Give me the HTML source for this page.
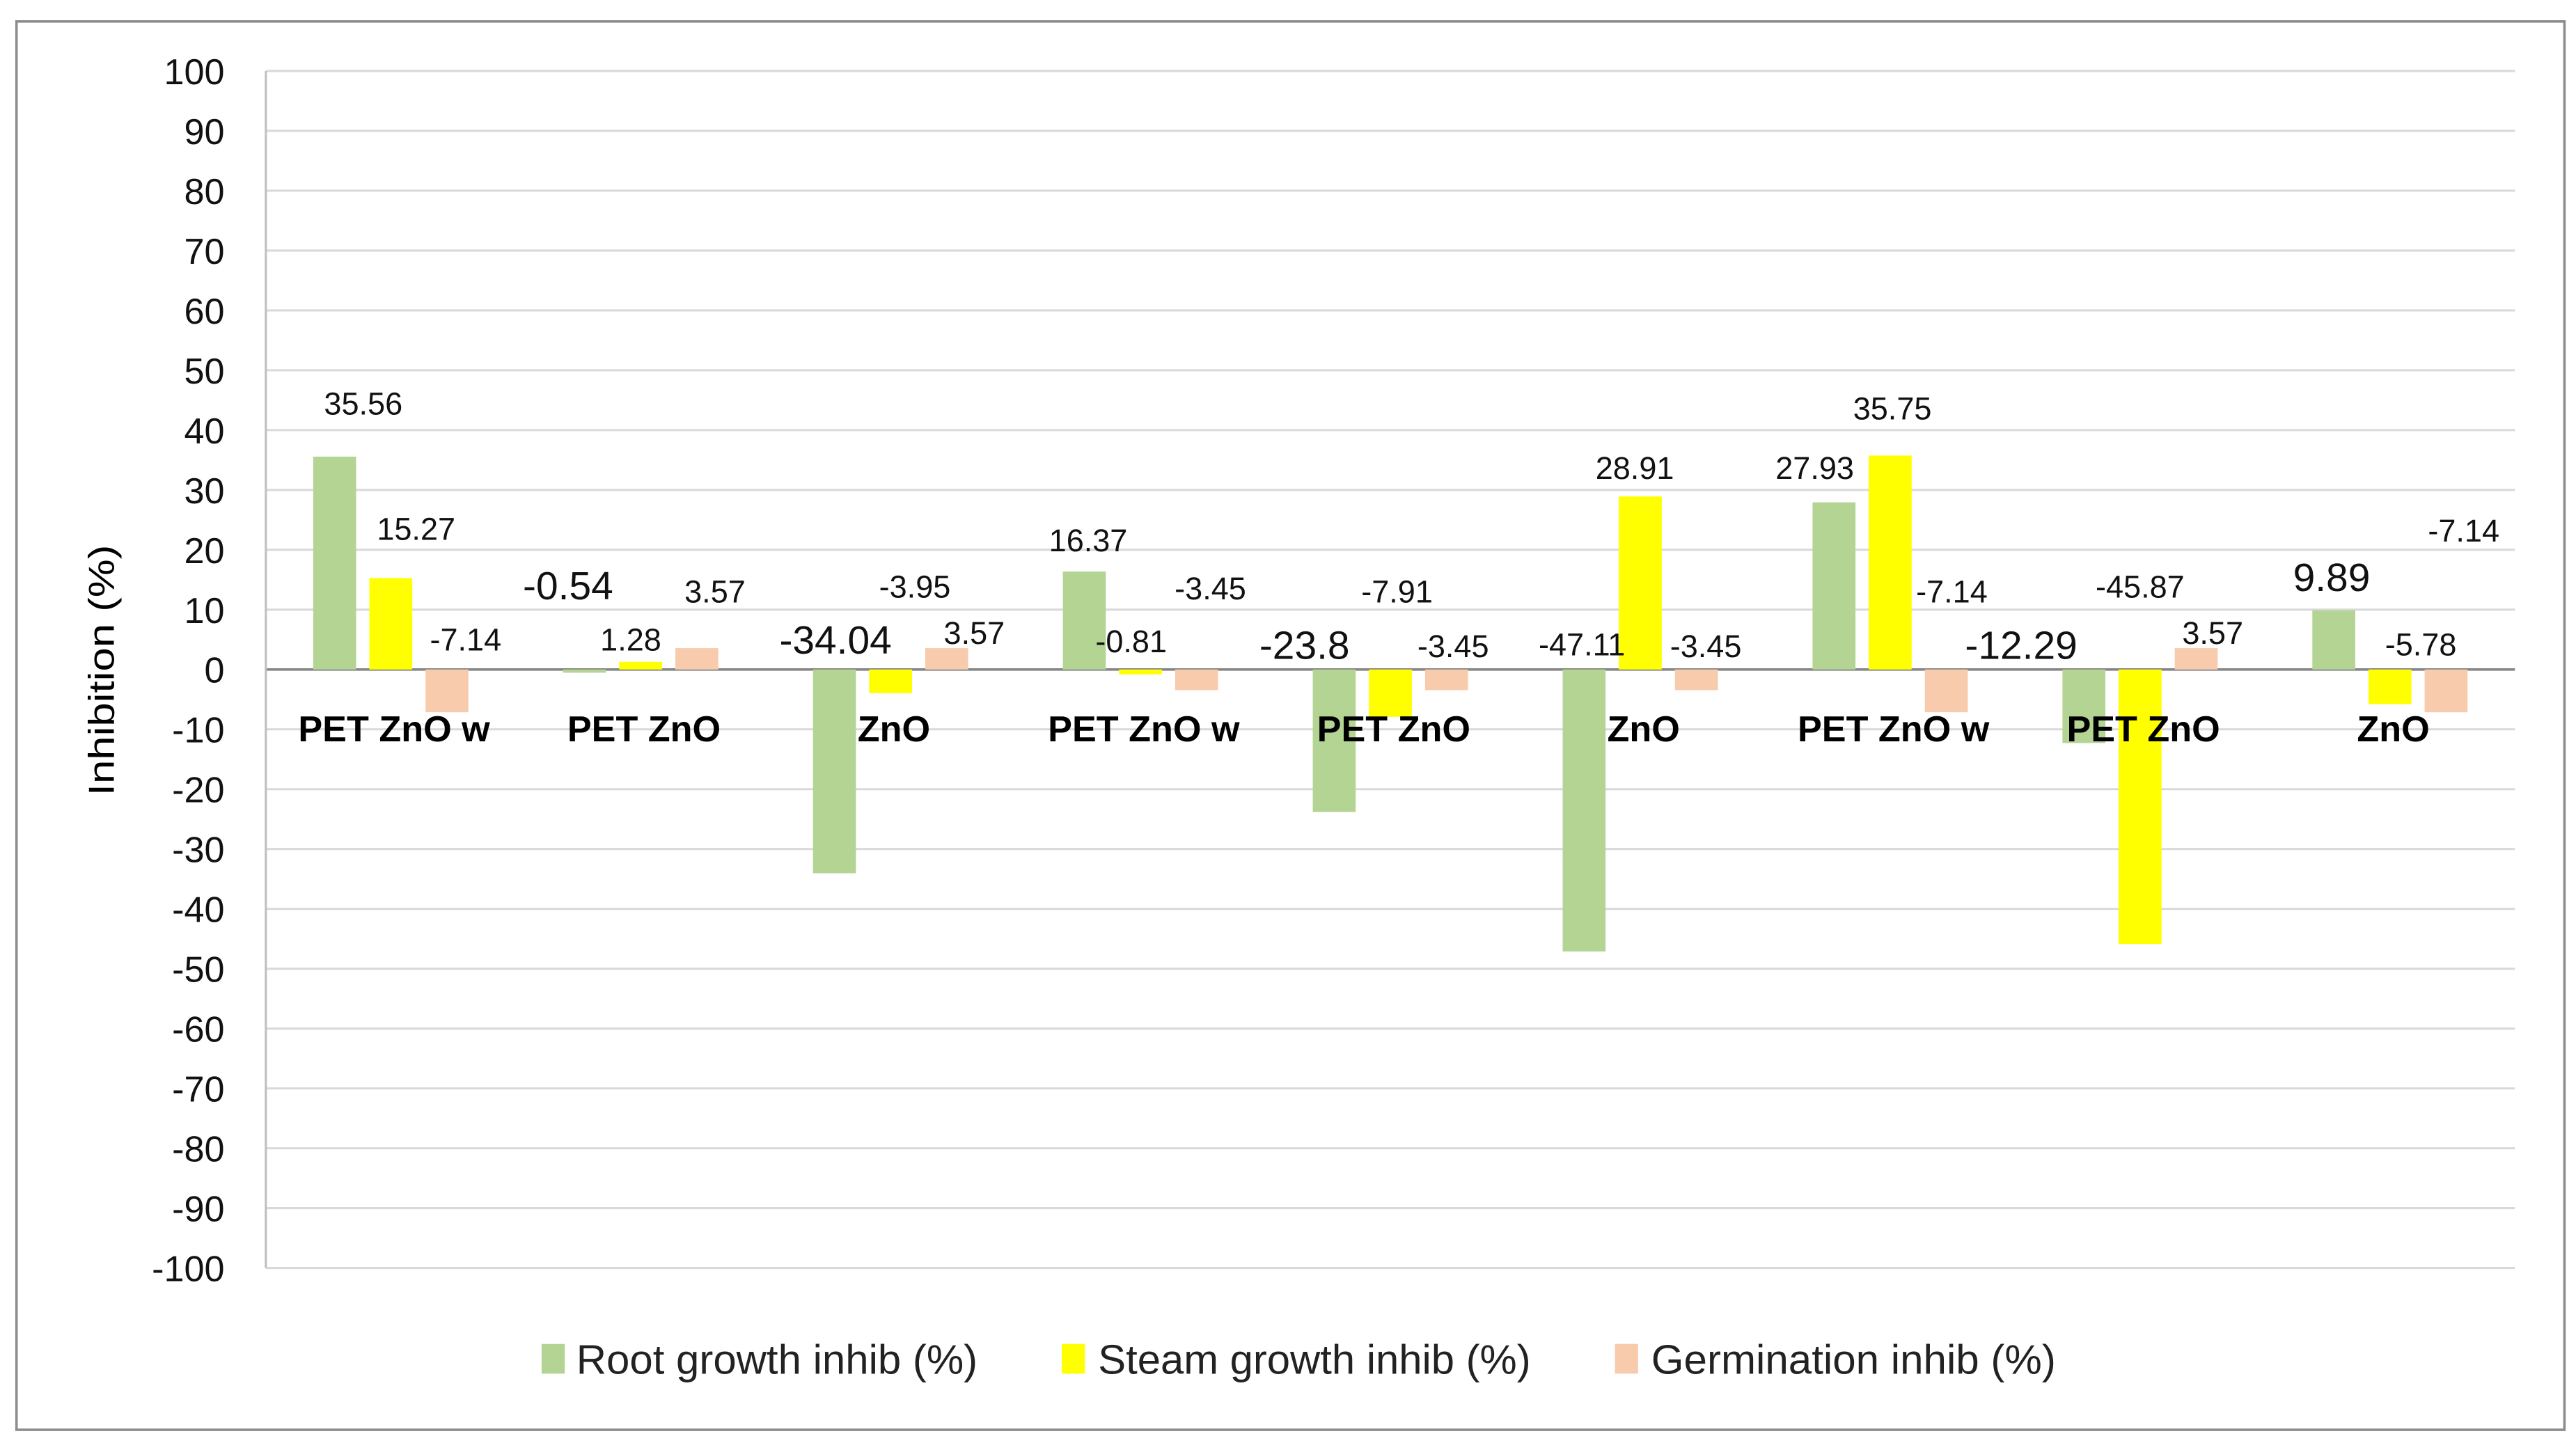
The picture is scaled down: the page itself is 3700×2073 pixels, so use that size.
<!DOCTYPE html>
<html><head><meta charset="utf-8"><style>
html,body{margin:0;padding:0;background:#fff}
svg{display:block}
text{font-family:"Liberation Sans",sans-serif}
</style></head><body>
<svg id="chart" width="3700" height="2073" viewBox="0 0 1560 874" preserveAspectRatio="none" xmlns="http://www.w3.org/2000/svg">
<rect x="10" y="13" width="1543" height="853" fill="#fff" stroke="#8c8c8c" stroke-width="1.5"/>
<g id="grid"></g>
<g id="bars"></g>
<g id="labels"></g>
<text transform="translate(69,406) rotate(-90)" text-anchor="middle" font-size="22" fill="#000" textLength="152" lengthAdjust="spacingAndGlyphs">Inhibition (%)</text>
<g>
<rect x="328" y="814" width="14" height="18" fill="#b4d494"/>
<text x="349" y="832" font-size="25" fill="#222" textLength="243" lengthAdjust="spacingAndGlyphs">Root growth inhib (%)</text>
<rect x="643" y="814" width="14" height="18" fill="#ffff00"/>
<text x="665" y="832" font-size="25" fill="#222" textLength="262" lengthAdjust="spacingAndGlyphs">Steam growth inhib (%)</text>
<rect x="978" y="814" width="14" height="18" fill="#f8cbad"/>
<text x="1000" y="832" font-size="25" fill="#222" textLength="245" lengthAdjust="spacingAndGlyphs">Germination inhib (%)</text>
</g>
</svg>
<script>
const categories = ["PET ZnO w","PET ZnO","ZnO","PET ZnO w","PET ZnO","ZnO","PET ZnO w","PET ZnO","ZnO"];
const rootValues = [35.56,-0.54,-34.04,16.37,-23.8,-47.11,27.93,-12.29,9.89];
const steamValues = [15.27,1.28,-3.95,-0.81,-7.91,28.91,35.75,-45.87,-5.78];
const germValues = [-7.14,3.57,3.57,-3.45,-3.45,-3.45,-7.14,3.57,-7.14];
const rootLabels = ["35.56","-0.54","-34.04","16.37","-23.8","-47.11","27.93","-12.29","9.89"];
const steamLabels = ["15.27","1.28","-3.95","-0.81","-7.91","28.91","35.75","-45.87","-5.78"];
const germLabels = ["-7.14","3.57","3.57","-3.45","-3.45","-3.45","-7.14","3.57","-7.14"];
const yTicks = [100,90,80,70,60,50,40,30,20,10,0,-10,-20,-30,-40,-50,-60,-70,-80,-90,-100];

// layout (manual Excel label placement, displayed coords)
const rootLabelLayout = [[220,244],[344,355],[506,388],[659,327],[790,391],[958,390],[1099,283],[1224,391],[1412,350]];
const steamLabelLayout = [[252,320],[382,387],[554,355],[685,388],[846,358],[990,283],[1146,247],[1296,355],[1466,390]];
const germLabelLayout = [[282,387],[433,358],[590,383],[733,356],[880,391],[1033,391],[1182,358],[1340,383],[1492,321]];
const bigRoot = [false,true,true,false,true,false,false,true,true];

const NS="http://www.w3.org/2000/svg";
const X0=161,X1=1523,Y100=43,Ym100=768;
const y=v=>Y100+(100-v)*(Ym100-Y100)/200;
const bandW=(X1-X0)/categories.length;
const cx=i=>X0+bandW*(i+0.5);
const BW=26, STEP=34;
function mk(tag,parent){const e=document.createElementNS(NS,tag);document.getElementById(parent).appendChild(e);return e;}

yTicks.forEach(t=>{
  const l=mk('line','grid');
  
  
  l.setAttribute('x1',X0);l.setAttribute('x2',X1);l.setAttribute('y1',y(t));l.setAttribute('y2',y(t));
  l.setAttribute('stroke',t===0?'#868686':'#d9d9d9');l.setAttribute('stroke-width',t===0?1.5:1.3);
  const tx=mk('text','grid');
  
  
  tx.setAttribute('x',136);tx.setAttribute('y',y(t)+8);tx.setAttribute('text-anchor','end');
  tx.setAttribute('font-size','22');tx.setAttribute('fill','#111');tx.textContent=t;
});
const ax=mk('line','grid');


ax.setAttribute('x1',X0);ax.setAttribute('x2',X0);ax.setAttribute('y1',Y100);ax.setAttribute('y2',Ym100);
ax.setAttribute('stroke','#bfbfbf');ax.setAttribute('stroke-width','1.3');

const series=[[rootValues,'#b4d494',-1,rootLabels,rootLabelLayout],[steamValues,'#ffff00',0,steamLabels,steamLabelLayout],[germValues,'#f8cbad',1,germLabels,germLabelLayout]];
series.forEach(([vals,col,off,labs,lay],si)=>{
  vals.forEach((v,i)=>{
    const r=mk('rect','bars');
    
    
    const xc=cx(i)+off*STEP;
    r.setAttribute('x',xc-BW/2);r.setAttribute('width',BW);
    r.setAttribute('y',Math.min(y(v),y(0)));r.setAttribute('height',Math.abs(y(v)-y(0)));
    r.setAttribute('fill',col);
    const t=mk('text','labels');
    
    
    const big=si===0&&bigRoot[i];
    t.setAttribute('x',lay[i][0]);t.setAttribute('y',lay[i][1]+(big?8:7));
    t.setAttribute('text-anchor','middle');t.setAttribute('font-size',big?24:19);t.setAttribute('fill','#111');
    t.textContent=labs[i];
  });
});
categories.forEach((c,i)=>{
  const t=mk('text','labels');
  
  
  t.setAttribute('x',cx(i)+2);t.setAttribute('y',449);t.setAttribute('text-anchor','middle');
  t.setAttribute('font-size','22');t.setAttribute('font-weight','bold');t.setAttribute('fill','#000');
  t.textContent=c;
});
</script>
</body></html>
